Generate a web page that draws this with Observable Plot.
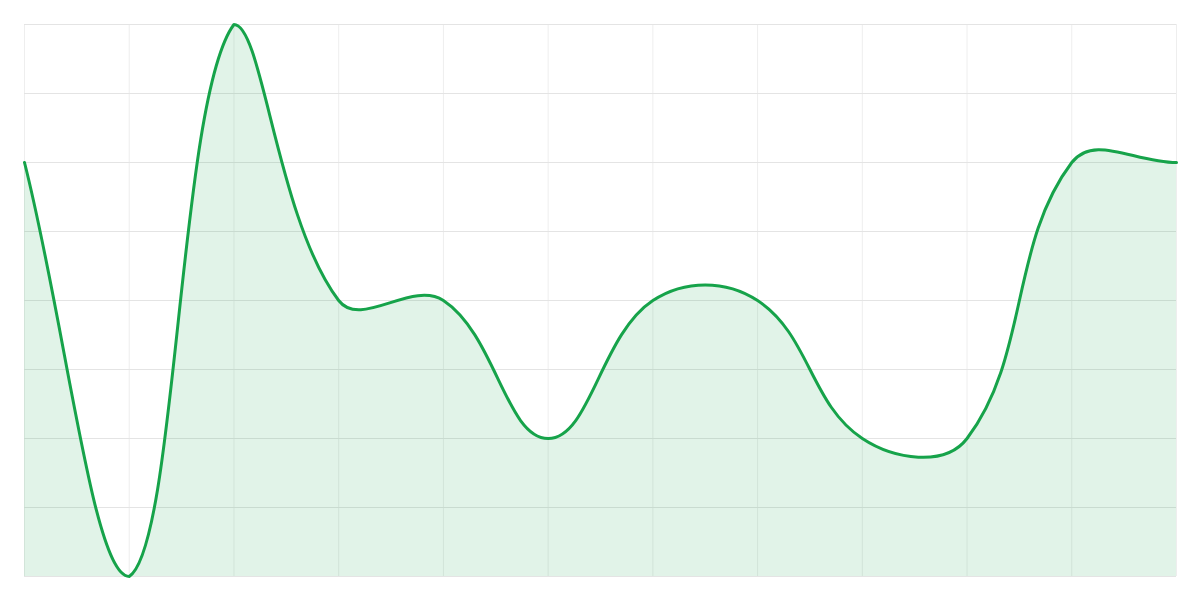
<!DOCTYPE html>
<html>
<head>
<meta charset="utf-8">
<script src="https://cdn.jsdelivr.net/npm/d3@7"></script>
<script src="https://cdn.jsdelivr.net/npm/@observablehq/plot@0.6"></script>
<style>
  html, body { margin: 0; padding: 0; background: #fff; }
  #chart { width: 1200px; height: 600px; }
</style>
</head>
<body>
<div id="chart"></div>
<script>
const positions = [0, 1, 2, 3, 4, 5, 6, 7, 8, 9, 10, 11];
const values = [60, 0, 80, 40, 40, 20, 40, 40, 20, 20, 60, 60];
const yTicks = [0, 10, 20, 30, 40, 50, 60, 70, 80];

const data = positions.map((p, i) => ({ x: p, y: values[i] }));

const W = 1200, H = 600, M = 24;
const TENSION = 0.4;
const area = { left: M, right: W - M, top: M, bottom: H - M };

// Tension spline with control points capped to the plot area
function splineCurve(context) {
  return {
    _pts: [],
    _line: NaN,
    areaStart() { this._line = 0; },
    areaEnd() { this._line = NaN; },
    lineStart() { this._pts = []; },
    point(x, y) { this._pts.push([+x, +y]); },
    lineEnd() {
      const p = this._pts, n = p.length;
      if (n) {
        if (this._line) context.lineTo(p[0][0], p[0][1]);
        else context.moveTo(p[0][0], p[0][1]);
        const cps = [];
        const clampX = v => Math.max(Math.min(v, area.right), area.left);
        const clampY = v => Math.max(Math.min(v, area.bottom), area.top);
        for (let i = 0; i < n; i++) {
          const prev = p[Math.max(i - 1, 0)], cur = p[i], next = p[Math.min(i + 1, n - 1)];
          const d01 = Math.hypot(cur[0] - prev[0], cur[1] - prev[1]);
          const d12 = Math.hypot(next[0] - cur[0], next[1] - cur[1]);
          let s01 = d01 / (d01 + d12), s12 = d12 / (d01 + d12);
          if (isNaN(s01)) s01 = 0;
          if (isNaN(s12)) s12 = 0;
          const fa = TENSION * s01, fb = TENSION * s12;
          cps.push({
            px: clampX(cur[0] - fa * (next[0] - prev[0])),
            py: clampY(cur[1] - fa * (next[1] - prev[1])),
            nx: clampX(cur[0] + fb * (next[0] - prev[0])),
            ny: clampY(cur[1] + fb * (next[1] - prev[1]))
          });
        }
        for (let i = 1; i < n; i++) {
          context.bezierCurveTo(cps[i - 1].nx, cps[i - 1].ny, cps[i].px, cps[i].py, p[i][0], p[i][1]);
        }
      }
      if (this._line || (this._line !== 0 && n === 1)) context.closePath();
      this._line = 1 - this._line;
    }
  };
}

const chart = Plot.plot({
  width: W,
  height: H,
  marginTop: M,
  marginBottom: M,
  marginLeft: M,
  marginRight: M,
  x: { domain: [0, 11], axis: null },
  y: { domain: [0, 80], axis: null },
  marks: [
    Plot.gridX(positions, { stroke: "#eeeeee", strokeOpacity: 1, strokeWidth: 1 }),
    Plot.gridY(yTicks, { stroke: "#e4e4e4", strokeOpacity: 1, strokeWidth: 1 }),
    Plot.areaY(data, { x: "x", y: "y", curve: splineCurve, fill: "#16a34a", fillOpacity: 0.13 }),
    Plot.lineY(data, { x: "x", y: "y", curve: splineCurve, stroke: "#16a34a", strokeWidth: 3 })
  ]
});
document.getElementById("chart").appendChild(chart);
</script>
</body>
</html>
